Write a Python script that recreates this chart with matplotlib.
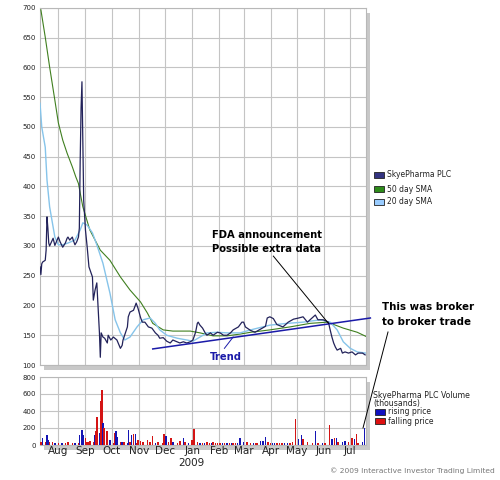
import numpy as np
import matplotlib
matplotlib.use("Agg")
import matplotlib.pyplot as plt
import matplotlib.dates as mdates
from matplotlib.patches import Rectangle
from matplotlib.lines import Line2D

START = np.datetime64('2008-07-11')
END = np.datetime64('2009-07-19')

# ---------------- data (day offsets from START) ----------------
price_days = [0, 1, 2, 3, 6, 7, 8, 9, 10, 11, 15, 17, 21, 23, 26, 29, 31, 32, 34, 37,
              38, 40, 42, 44, 45, 46, 47, 48, 49, 50, 52, 54, 56, 60, 61, 63, 65, 66, 68, 69,
              70, 72, 74, 77, 78, 81, 84, 88, 92, 94, 95, 100, 101, 103, 107, 110, 112, 115, 117, 120,
              124, 128, 132, 135, 137, 141, 145, 149, 152, 157, 160, 164, 168, 172, 175, 178, 180, 181, 183, 186,
              189, 191, 195, 198, 203, 206, 210, 214, 218, 221, 227, 231, 233, 235, 237, 241, 246, 252, 258, 260,
              263, 267, 271, 278, 284, 290, 296, 301, 306, 309, 315, 318, 324, 330, 332, 334, 336, 338, 340, 344,
              346, 349, 353, 357, 361, 364, 369, 372]
price = [265, 252, 270, 273, 276, 293, 349, 330, 305, 300, 313, 301, 315, 307, 298, 305, 313, 315, 310, 315,
         310, 302, 307, 315, 330, 445, 532, 576, 480, 377, 327, 298, 265, 248, 209, 226, 238, 209, 154, 113,
         154, 147, 145, 137, 150, 142, 147, 142, 128, 133, 142, 164, 181, 189, 192, 204, 196, 180, 172, 172,
         164, 162, 154, 150, 145, 146, 140, 137, 142, 139, 137, 139, 137, 139, 142, 155, 170, 172, 167, 162,
         154, 150, 154, 150, 155, 154, 150, 150, 154, 159, 164, 172, 172, 164, 162, 158, 155, 160, 165, 179,
         181, 178, 168, 164, 172, 177, 179, 181, 172, 176, 184, 176, 176, 172, 159, 147, 137, 130, 125, 128,
         120, 122, 120, 122, 117, 120, 120, 117]

sma50_days = [1, 6, 11, 17, 21, 26, 31, 37, 41, 44, 46, 49, 57, 69, 80, 92, 103, 115, 123, 129,
              141, 152, 172, 183, 198, 214, 229, 241, 263, 286, 309, 329, 347, 363, 373]
sma50 = [697, 651, 601, 545, 507, 478, 456, 433, 416, 405, 389, 366, 327, 293, 276, 248, 226, 206, 187, 170,
         159, 157, 157, 154, 149, 149, 152, 155, 159, 164, 170, 172, 162, 155, 148]

sma20_days = [0, 2, 6, 8, 11, 17, 21, 26, 32, 40, 46, 49, 54, 60, 65, 72, 80, 86, 92, 97,
              103, 111, 118, 126, 132, 137, 145, 157, 168, 175, 183, 191, 203, 214, 229, 241, 263, 283, 301, 321,
              332, 340, 347, 355, 363, 373]
sma20 = [540, 500, 466, 411, 366, 315, 302, 302, 305, 310, 327, 339, 335, 322, 302, 271, 221, 176, 154, 142,
         147, 164, 176, 179, 170, 159, 150, 145, 142, 140, 147, 154, 155, 154, 154, 159, 167, 170, 172, 176,
         172, 159, 139, 128, 122, 120]

vol_days = [1, 3, 6, 8, 9, 11, 14, 17, 21, 25, 29, 32, 37, 40, 44, 45, 48, 49, 52, 54,
            55, 57, 61, 63, 64, 65, 68, 69, 70, 71, 72, 73, 76, 77, 80, 81, 84, 86, 87, 88,
            92, 94, 96, 100, 101, 103, 105, 107, 109, 111, 112, 115, 118, 123, 126, 129, 132, 135, 140, 142,
            144, 147, 150, 152, 157, 160, 164, 166, 170, 174, 176, 180, 183, 186, 188, 191, 194, 196, 198, 201,
            203, 206, 209, 211, 214, 217, 219, 221, 224, 226, 229, 233, 237, 241, 244, 247, 249, 252, 255, 258,
            261, 264, 266, 268, 271, 274, 277, 280, 283, 286, 289, 292, 296, 299, 301, 306, 312, 315, 318, 323,
            326, 331, 334, 337, 339, 341, 346, 349, 353, 357, 360, 362, 364, 369, 371]
vol = [40, 80, 40, 120, 60, 30, 30, 20, 20, 20, 25, 40, 25, 20, 20, 120, 180, 120, 80, 40,
       30, 50, 40, 120, 160, 330, 140, 340, 520, 650, 260, 200, 170, 160, 60, 40, 20, 140, 160, 100,
       30, 40, 40, 20, 180, 40, 120, 130, 130, 20, 60, 50, 40, 60, 30, 110, 20, 40, 20, 130,
       110, 30, 80, 30, 20, 50, 80, 30, 20, 60, 190, 40, 20, 20, 25, 30, 20, 25, 30, 20,
       25, 20, 20, 25, 20, 20, 25, 25, 20, 25, 80, 40, 30, 25, 20, 20, 25, 45, 50, 100,
       35, 20, 25, 20, 25, 20, 25, 20, 25, 20, 35, 310, 70, 120, 70, 35, 25, 160, 25, 25,
       25, 240, 70, 85, 85, 35, 35, 50, 35, 85, 70, 125, 25, 35, 200]
vol_rising = [0, 1, 0, 1, 1, 0, 0, 1, 0, 1, 0, 0, 0, 1, 0, 1, 1, 1, 0, 0,
              0, 0, 0, 1, 0, 0, 1, 0, 0, 0, 1, 0, 0, 0, 1, 1, 0, 0, 1, 1,
              0, 1, 0, 1, 1, 0, 1, 0, 1, 0, 0, 0, 0, 0, 0, 0, 1, 0, 0, 0,
              1, 0, 0, 1, 0, 0, 1, 0, 1, 0, 0, 0, 1, 0, 1, 0, 0, 1, 0, 0,
              0, 0, 1, 0, 1, 0, 1, 0, 0, 1, 1, 1, 0, 0, 1, 0, 0, 1, 1, 1,
              0, 0, 1, 1, 0, 0, 0, 1, 1, 0, 0, 0, 1, 1, 0, 0, 0, 1, 0, 1,
              0, 0, 1, 0, 1, 0, 1, 1, 0, 0, 1, 0, 0, 1, 1]

price_ticks = [100, 150, 200, 250, 300, 350, 400, 450, 500, 550, 600, 650, 700]
vol_ticks = [0, 200, 400, 600, 800]

# trend line (data)
trend_days = [129, 378]
trend_vals = [127, 179]

def to_dates(days):
    return START + np.array(days).astype('timedelta64[D]')

# ---------------- colours ----------------
C_PRICE = '#22225a'
C_SMA50 = '#3f7f1f'
C_SMA20 = '#86c4ea'
C_UP = '#1414b4'
C_DOWN = '#d41414'
C_GRID = '#c4c4c4'
C_SHADOW = '#c8c8c8'

W, H = 500, 480
fig = plt.figure(figsize=(5, 4.8), dpi=100)
fig.patch.set_facecolor('white')

def fx(px):
    return px / W

def fy(py):
    return 1 - py / H

L, R = 40, 366
main_top, main_bot = 8, 365
vol_top, vol_bot = 377, 445

# shadows (behind axes)
for top, bot in [(main_top, main_bot), (vol_top, vol_bot)]:
    fig.patches.append(Rectangle((fx(L + 4), fy(bot + 5)), fx(R - L), (bot - top) / H,
                                 transform=fig.transFigure, facecolor=C_SHADOW,
                                 edgecolor='none', zorder=-10))

ax = fig.add_axes([fx(L), fy(main_bot), fx(R - L), (main_bot - main_top) / H], zorder=2)
axv = fig.add_axes([fx(L), fy(vol_bot), fx(R - L), (vol_bot - vol_top) / H], sharex=ax, zorder=2)

for a in (ax, axv):
    a.set_facecolor('white')
    for s in a.spines.values():
        s.set_color('#b8b8b8')
        s.set_linewidth(0.8)
    a.grid(True, color=C_GRID, linewidth=0.8)
    a.set_axisbelow(True)
    a.tick_params(length=0, labelsize=5, pad=3, colors='#222222')

ax.plot(to_dates(sma50_days), sma50, color=C_SMA50, lw=0.8, zorder=3)
ax.plot(to_dates(sma20_days), sma20, color=C_SMA20, lw=1.0, zorder=3)
ax.plot(to_dates(price_days), price, color=C_PRICE, lw=0.9, zorder=4)
ax.plot(to_dates(trend_days), trend_vals, color='#1a1aa8', lw=1.1, zorder=5, clip_on=False)

ax.set_ylim(100, 700)
ax.set_yticks(price_ticks)
ax.set_xlim(START, END)
ax.xaxis.set_major_locator(mdates.MonthLocator())
plt.setp(ax.get_xticklabels(), visible=False)

colors = [C_UP if r else C_DOWN for r in vol_rising]
axv.bar(to_dates(vol_days), vol, width=1.6, color=colors, linewidth=0, zorder=3)
axv.set_ylim(0, 800)
axv.set_yticks(vol_ticks)
axv.xaxis.set_major_locator(mdates.MonthLocator())
axv.xaxis.set_major_formatter(mdates.DateFormatter('%b'))
axv.tick_params(axis='x', labelsize=7.5, pad=1)
axv.set_xlim(START, END)
fig.text(fx(191.5), fy(463), '2009', ha='center', va='center', fontsize=7.5, color='#222222')

# annotations
bold = dict(fontweight='bold', family='DejaVu Sans')
ax.text(to_dates([197])[0], 307, 'FDA announcement\nPossible extra data', fontsize=7.2,
        ha='left', va='center', linespacing=1.55, color='black', **bold)
ax.plot(to_dates([267, 330]), [283, 170], color='black', lw=0.7, zorder=6)
ax.text(to_dates([194])[0], 113, 'Trend', fontsize=7.2, ha='left', va='center',
        color='#1a1aa8', **bold)
ax.plot(to_dates([211, 221]), [128, 147], color='#1a1aa8', lw=0.7, zorder=6)

fig.text(fx(382), fy(314.5), 'This was broker\nto broker trade', fontsize=7.4,
         ha='left', va='center', linespacing=1.6, color='black', **bold)
fig.lines.append(Line2D([fx(388), fx(363)], [fy(332), fy(428)], transform=fig.transFigure,
                        color='black', lw=0.7, zorder=5))

# legends
def legend_item(px, py, color, label, edge='#222222'):
    fig.patches.append(Rectangle((fx(px), fy(py + 3)), fx(10), 6 / H, transform=fig.transFigure,
                                 facecolor=color, edgecolor=edge, linewidth=0.6, zorder=5))
    fig.text(fx(px + 13), fy(py), label, fontsize=5.5, ha='left', va='center', color='#222222')

legend_item(374, 175, '#333380', 'SkyePharma PLC')
legend_item(374, 189, '#2e8b1a', '50 day SMA')
legend_item(374, 202, '#99ccff', '20 day SMA')

fig.text(fx(373), fy(395), 'SkyePharma PLC Volume', fontsize=5.6, ha='left', va='center',
         color='#222222')
fig.text(fx(373), fy(403.5), '(thousands)', fontsize=5.6, ha='left', va='center', color='#222222')
legend_item(375, 412, '#1010c0', 'rising price')
legend_item(375, 421, '#dd1010', 'falling price')

fig.text(fx(495), fy(471), '\u00a9 2009 Interactive Investor Trading Limited', fontsize=5.4,
         ha='right', va='center', color='#777777')

fig.savefig('out.png', dpi=100, facecolor='white')
